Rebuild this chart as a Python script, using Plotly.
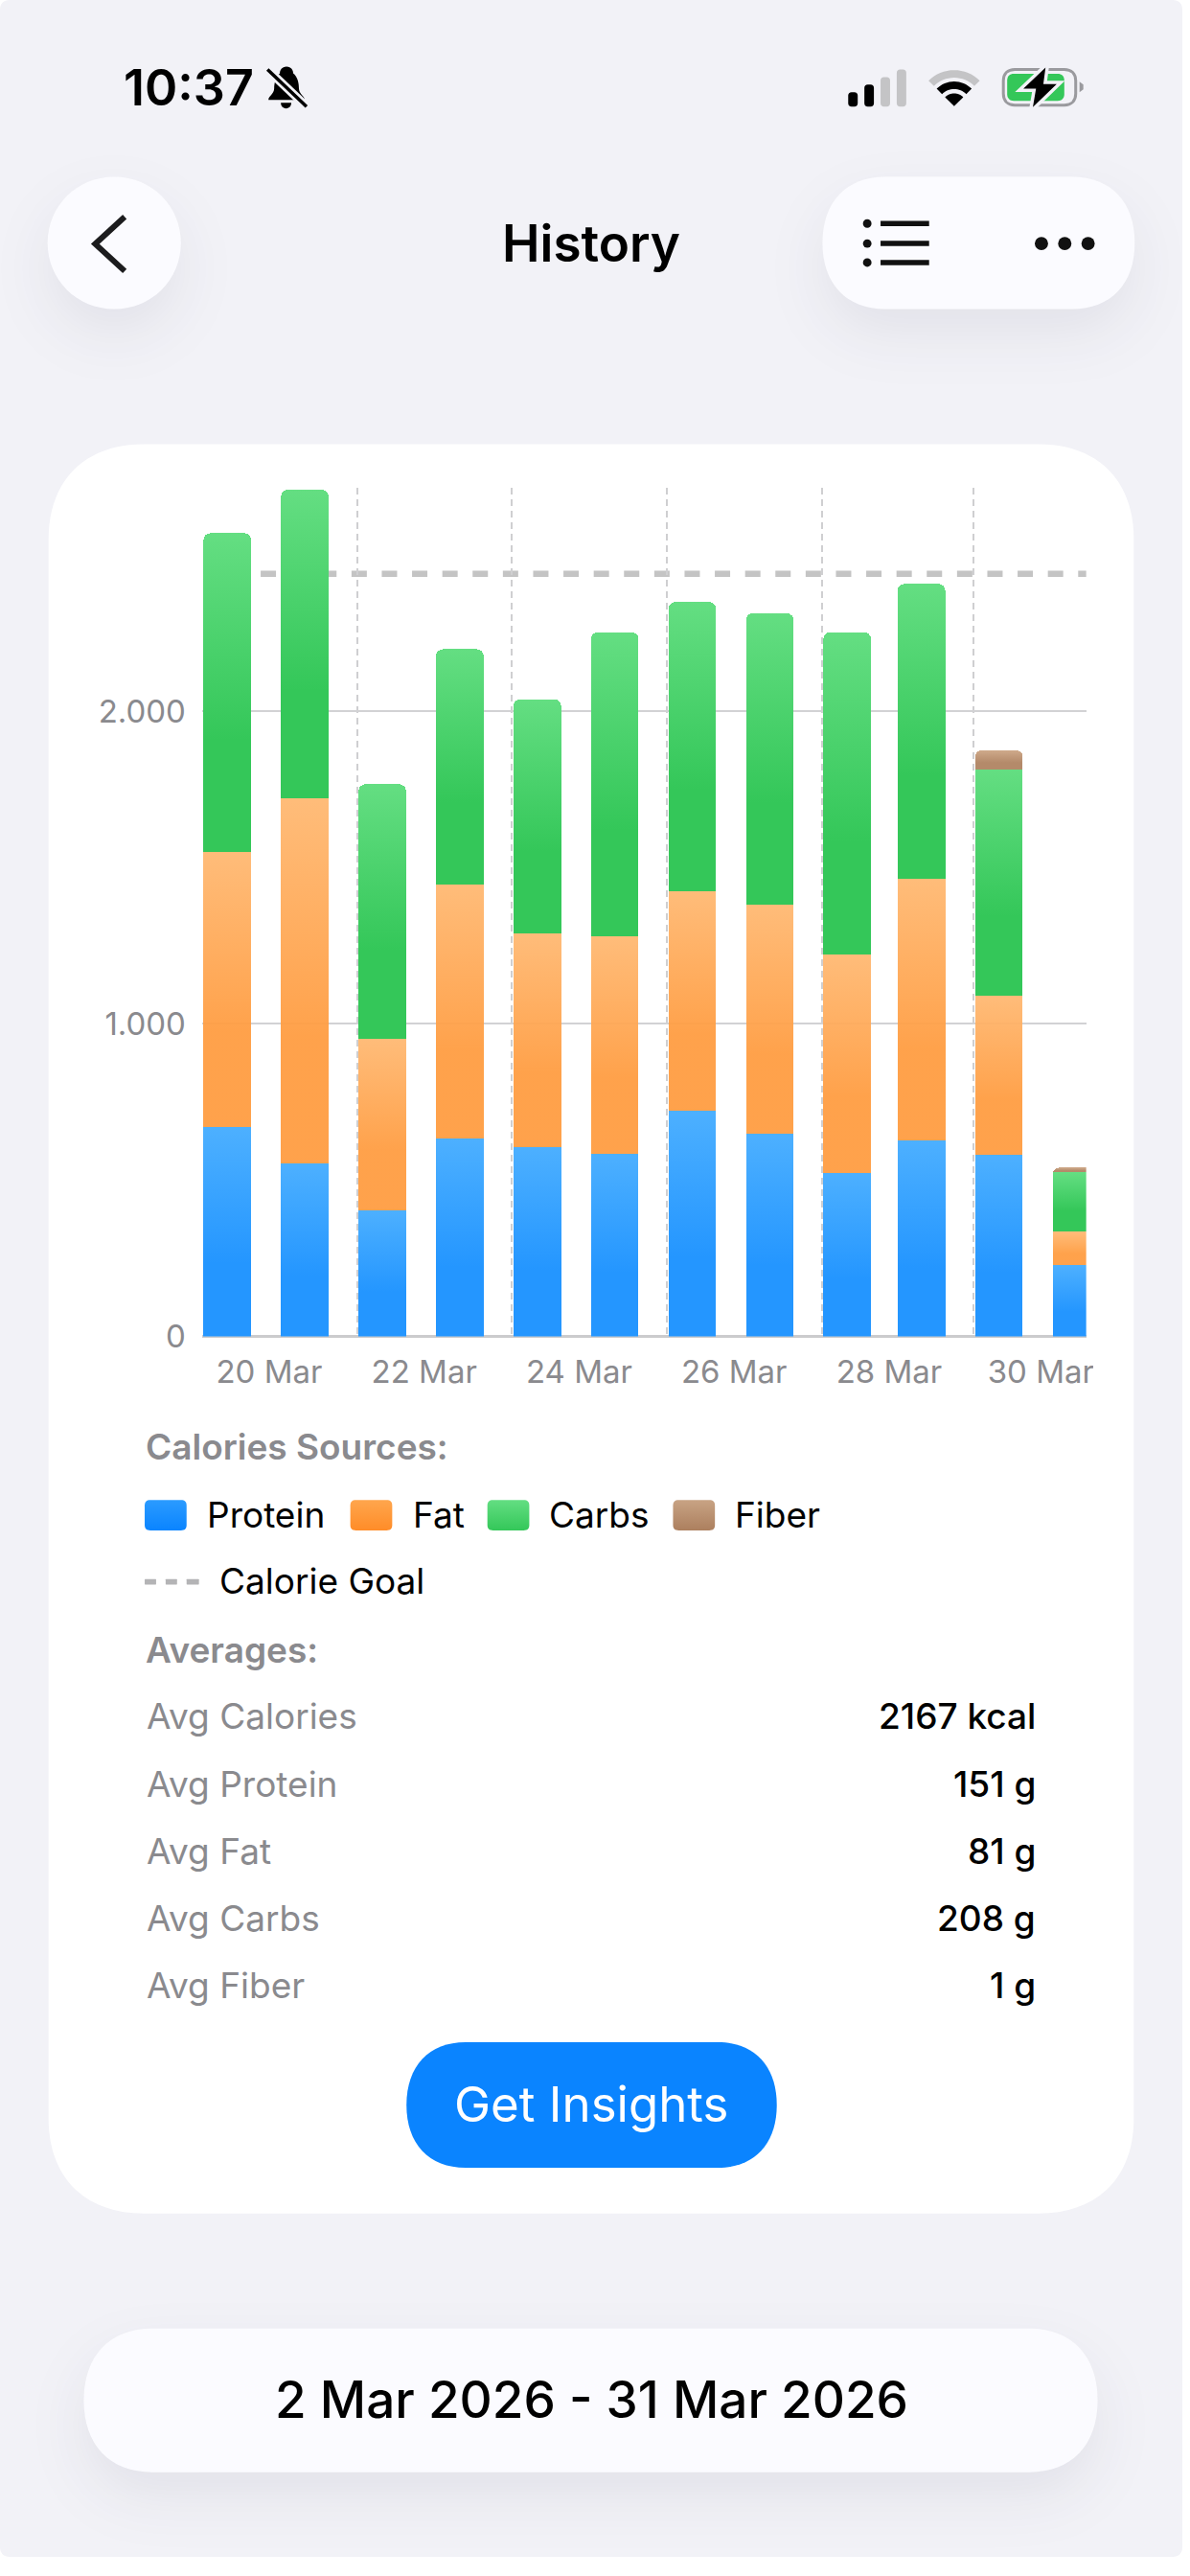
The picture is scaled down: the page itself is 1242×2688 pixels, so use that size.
import math
import plotly.graph_objects as go

# Daily calories per macro, local midnights expressed in UTC (clocks change on 29 Mar)
days = ["2026-03-19 23:00", "2026-03-20 23:00", "2026-03-21 23:00", "2026-03-22 23:00",
        "2026-03-23 23:00", "2026-03-24 23:00", "2026-03-25 23:00", "2026-03-26 23:00",
        "2026-03-27 23:00", "2026-03-28 22:00", "2026-03-29 22:00", "2026-03-30 22:00"]
protein = [669, 553, 404, 633, 607, 585, 723, 647, 524, 627, 581, 227]
fat = [882, 1167, 547, 812, 681, 694, 702, 734, 697, 837, 509, 108]
carbs = [1018, 988, 815, 753, 750, 973, 924, 932, 1031, 943, 724, 190]
fiber = [0, 0, 0, 0, 0, 0, 0, 0, 0, 0, 61, 15]
calorie_goal = 2439

x_ticks = ["2026-03-19 23:00", "2026-03-21 23:00", "2026-03-23 23:00",
           "2026-03-25 23:00", "2026-03-27 23:00", "2026-03-29 22:00"]
x_labels = ["20 Mar", "22 Mar", "24 Mar", "26 Mar", "28 Mar", "30 Mar"]
y_ticks = [0, 1000, 2000]
y_labels = ["0", "1.000", "2.000"]

series_names = ["Protein", "Fat", "Carbs", "Fiber"]
series_colors = ["#2496FF", "#FF9F43", "#34C759", "#B48A6A"]
average_names = ["Avg Calories", "Avg Protein", "Avg Fat", "Avg Carbs", "Avg Fiber"]
average_values = ["2167 kcal", "151 g", "81 g", "208 g", "1 g"]

W, H = 1242, 2688
FONT = "Inter"
GREY = "#8a8a8e"
INK = "#000000"
PAGE = "#f2f2f7"
PILL = "#fbfbff"
BLUE = "#0A84FF"


def fx(x):
    return x / W


def fy(y):
    return 1 - y / H


def pt(x, y):
    return f"{fx(x):.6f},{fy(y):.6f}"


def smooth_rect(x0, y0, x1, y1, rx, ry=None, k=0.62):
    """Closed rounded rectangle with soft, continuous-looking corners."""
    ry = rx if ry is None else ry
    cx, cy = rx * (1 - k), ry * (1 - k)
    return (
        f"M{pt(x0 + rx, y0)} L{pt(x1 - rx, y0)} "
        f"C{pt(x1 - cx, y0)} {pt(x1, y0 + cy)} {pt(x1, y0 + ry)} "
        f"L{pt(x1, y1 - ry)} C{pt(x1, y1 - cy)} {pt(x1 - cx, y1)} {pt(x1 - rx, y1)} "
        f"L{pt(x0 + rx, y1)} C{pt(x0 + cx, y1)} {pt(x0, y1 - cy)} {pt(x0, y1 - ry)} "
        f"L{pt(x0, y0 + ry)} C{pt(x0, y0 + cy)} {pt(x0 + cx, y0)} {pt(x0 + rx, y0)} Z"
    )


def poly(points, close=True):
    body = " L".join(pt(x, y) for x, y in points)
    return "M" + body + (" Z" if close else "")


def fan(cx, cy, r0, r1, half_angle=45, steps=16):
    """Ring segment opening upwards, used for the wifi glyph."""
    angles = [math.radians(-half_angle + 2 * half_angle * i / steps) for i in range(steps + 1)]
    outer = [(cx + r1 * math.sin(a), cy - r1 * math.cos(a)) for a in angles]
    inner = [(cx + r0 * math.sin(a), cy - r0 * math.cos(a)) for a in reversed(angles)]
    return poly(outer + inner)


shapes = []
shadowed = []


def fill_shape(path, color, shadow=False):
    if shadow:
        shadowed.append(len(shapes))
    shapes.append(dict(type="path", xref="paper", yref="paper", path=path, fillcolor=color,
                       line=dict(width=0), layer="below"))


def stroke_shape(path, color, width):
    shapes.append(dict(type="path", xref="paper", yref="paper", path=path,
                       line=dict(color=color, width=width), layer="below"))


def dot(x, y, r, color):
    shapes.append(dict(type="circle", xref="paper", yref="paper", layer="below",
                       x0=fx(x - r), x1=fx(x + r), y0=fy(y + r), y1=fy(y - r),
                       fillcolor=color, line=dict(width=0)))


# Screen, card and capsule surfaces
fill_shape(smooth_rect(0, 0, W, H, 10), PAGE)
fill_shape(smooth_rect(51, 467, 1191, 2327, 100), "#ffffff")
fill_shape(smooth_rect(50, 186, 190, 325, 70, 69.5, k=0.56), PILL, shadow=True)
fill_shape(smooth_rect(864, 186, 1192, 325, 66, 69.5), PILL, shadow=True)
fill_shape(smooth_rect(88, 2448, 1153, 2599, 72, 75.5), PILL, shadow=True)
fill_shape(smooth_rect(427, 2147, 816, 2279, 62, 66), BLUE)

# Back chevron, list and overflow icons
stroke_shape(poly([(131, 228), (100, 256.5), (131, 285)], close=False), "#1c1c1e", 6)
for row_y in (235, 256, 276):
    dot(911, row_y, 4.5, "#111111")
    stroke_shape(poly([(925, row_y), (976, row_y)], close=False), "#111111", 5.5)
for dot_x in (1094, 1118.5, 1143):
    dot(dot_x, 256, 7, "#111111")

# Status bar glyphs: muted bell
bell = (f"M{pt(301, 70)} C{pt(306, 70)} {pt(308, 74)} {pt(308, 77)} C{pt(313, 81)} {pt(314, 88)} {pt(314, 93)} "
        f"C{pt(314, 99)} {pt(320, 101)} {pt(320, 105)} L{pt(282, 105)} C{pt(282, 101)} {pt(288, 99)} {pt(288, 93)} "
        f"C{pt(288, 87)} {pt(290, 80)} {pt(294, 77)} C{pt(294, 74)} {pt(296, 70)} {pt(301, 70)} Z")
fill_shape(bell, "#000000")
fill_shape(f"M{pt(295, 108)} L{pt(306, 108)} C{pt(306, 112)} {pt(303, 114)} {pt(300.5, 114)} "
           f"C{pt(298, 114)} {pt(295, 112)} {pt(295, 108)} Z", "#000000")
stroke_shape(poly([(281, 73), (322, 112)], close=False), PAGE, 9)
stroke_shape(poly([(281, 73), (322, 112)], close=False), "#000000", 3.5)

# Signal strength
for bx0, bx1, top, tone in [(891, 901, 97, "#000000"), (908, 918, 89, "#000000"),
                            (925, 935, 81, "#c4c4c6"), (942, 952, 73, "#c4c4c6")]:
    fill_shape(smooth_rect(bx0, top, bx1, 112, 3.5), tone)

# Wifi
fill_shape(fan(1002.3, 111.7, 30, 38), "#c4c4c6")
fill_shape(fan(1002.3, 111.7, 18, 26), "#000000")
fill_shape(fan(1002.3, 111.7, 0, 13.5), "#000000")

# Charging battery
stroke_shape(smooth_rect(1054, 73, 1130, 110.5, 12), "#9a9a9e", 3)
fill_shape(smooth_rect(1058, 77.5, 1118, 106, 7), "#34C759")
fill_shape(poly([(1134, 86), (1138, 89), (1138, 94), (1134, 97)]), "#9a9a9e")
bolt = [(1098.3, 71), (1075, 93.3), (1088.3, 93.3), (1085, 112.7), (1110, 88.3), (1096, 88.3)]
stroke_shape(poly(bolt), PAGE, 7)
fill_shape(poly(bolt), "#000000")

# Legend keys
key_y0, key_y1 = 1577, 1609
key_first = len(shapes)
for key_x in (152, 368, 512, 707):
    fill_shape(smooth_rect(key_x, key_y0, key_x + 44, key_y1, 6, k=0.7), "#888888")
for dash_x0, dash_x1 in ((152, 164), (174, 186), (196, 209)):
    fill_shape(smooth_rect(dash_x0, 1660, dash_x1, 1666, 0.5), "#b4b4b6")

# Calorie goal rule, under the bars; its dash phase starts behind the first bar
shapes.append(dict(type="line", xref="x domain", yref="y", layer="below", x0=0.032, x1=1,
                   y0=calorie_goal, y1=calorie_goal,
                   line=dict(color="#c4c4c4", width=6.5, dash="16px,15.6px")))

annotations = []


def text(x, y, s, size, color=INK, anchor="left", weight=400):
    annotations.append(dict(xref="paper", yref="paper", x=fx(x), y=fy(y), text=s, showarrow=False,
                            xanchor=anchor, yanchor="middle", borderpad=0,
                            font=dict(family=FONT, size=size, color=color, weight=weight)))


text(129, 92, "10:37", 52, weight=600)
text(621, 256, "History", 53, weight=600, anchor="center")
text(152, 1521, "Calories Sources:", 37, GREY, weight=600)
for name, x in zip(series_names, (216, 433, 576, 771)):
    text(x, 1592, name, 37)
text(229, 1662, "Calorie Goal", 37)
text(152, 1734, "Averages:", 37, GREY, weight=600)
for name, value, y in zip(average_names, average_values, (1804, 1875, 1946, 2016, 2087)):
    text(153, y, name, 37, GREY)
    text(1089, y, value, 37, anchor="right", weight=500)
text(621.5, 2212, "Get Insights", 51, "#ffffff", anchor="center")
text(621, 2523, "2 Mar 2026 - 31 Mar 2026", 53, anchor="center", weight=500)

PX_PER_DAY = 81.4
DAY_MS = 86400000
bar_width = 50 / PX_PER_DAY * DAY_MS
bar_offset = 1.5 / PX_PER_DAY * DAY_MS

fig = go.Figure()
for name, values, color in zip(series_names, (protein, fat, carbs, fiber), series_colors):
    fig.add_trace(go.Bar(name=name, x=days, y=values, marker=dict(color=color, line=dict(width=0)),
                         width=bar_width, offset=bar_offset, showlegend=False))

axis_font = dict(family=FONT, size=33, color=GREY)
fig.update_layout(
    width=W, height=H, margin=dict(l=0, r=0, t=0, b=0, pad=0),
    paper_bgcolor="#ffffff", plot_bgcolor="rgba(0,0,0,0)",
    barmode="stack", barcornerradius=7, showlegend=False,
    shapes=shapes, annotations=annotations,
    xaxis=dict(type="date", domain=[212.3 / W, 1141 / W], range=["2026-03-19 23:00", "2026-03-31 08:49"],
               tickmode="array", tickvals=x_ticks, ticktext=x_labels, tickfont=axis_font,
               ticks="", ticklabelshift=70, ticklabelstandoff=14,
               showgrid=True, gridcolor="#cfcfd1", gridwidth=2, griddash="7px,5px",
               showline=False, zeroline=False),
    yaxis=dict(domain=[1 - 1405 / H, 1 - 513 / H], range=[0, 892 / 0.3287],
               tickmode="array", tickvals=y_ticks, ticktext=y_labels, tickfont=axis_font,
               ticks="", ticklabelstandoff=16,
               showgrid=True, gridcolor="#d2d2d4", gridwidth=2,
               zeroline=True, zerolinecolor="#cbcbcd", zerolinewidth=3, showline=False),
)

# Vertical gradients, capsule shadows and the clipped last date label are applied to the drawn SVG
post_script = """
(function () {
  document.documentElement.style.overflow = 'hidden';
  document.body.style.margin = '0';
  document.body.style.overflow = 'hidden';
  var svg = document.querySelector('.main-svg');
  var ns = 'http://www.w3.org/2000/svg';
  var defs = document.createElementNS(ns, 'defs');
  var ramps = [
    ['#4DB0FF', '#2496FF', 1], ['#FFB871', '#FF9C40', 0.94],
    ['#64DE82', '#34C759', 1], ['#CFAA8B', '#B48A6A', 1],
    ['#2B9BFF', '#0A84FF', 1], ['#FFA64D', '#FF8C28', 1],
    ['#63DE82', '#34C759', 1], ['#C8A384', '#AC7F5E', 1]
  ];
  ramps.forEach(function (r, i) {
    var g = document.createElementNS(ns, 'linearGradient');
    g.setAttribute('id', 'ramp' + i);
    g.setAttribute('x1', '0'); g.setAttribute('y1', '0');
    g.setAttribute('x2', '0'); g.setAttribute('y2', '1');
    [[0, r[0]], [i < 4 ? 0.65 : 1, r[1]], [1, r[1]]].forEach(function (s) {
      var stop = document.createElementNS(ns, 'stop');
      stop.setAttribute('offset', s[0]);
      stop.setAttribute('stop-color', s[1]);
      stop.setAttribute('stop-opacity', r[2]);
      g.appendChild(stop);
    });
    defs.appendChild(g);
  });
  var clip = document.createElementNS(ns, 'clipPath');
  clip.setAttribute('id', 'xlabelclip');
  var rect = document.createElementNS(ns, 'rect');
  rect.setAttribute('x', 0); rect.setAttribute('y', 0);
  rect.setAttribute('width', 1141); rect.setAttribute('height', 2688);
  clip.appendChild(rect);
  defs.appendChild(clip);
  svg.insertBefore(defs, svg.firstChild);

  document.querySelectorAll('.barlayer .trace.bars').forEach(function (t, i) {
    t.querySelectorAll('path').forEach(function (p) {
      p.style.fill = 'url(#ramp' + i + ')';
      p.style.fillOpacity = 1;
    });
  });
  var shapes = document.querySelectorAll('.layer-below .shapelayer path');
  SHADOWED.forEach(function (i) {
    shapes[i].style.filter = 'drop-shadow(0px 26px 30px rgba(30,30,60,0.07))';
  });
  KEYS.forEach(function (i, k) {
    shapes[i].style.fill = 'url(#ramp' + (k + 4) + ')';
    shapes[i].style.fillOpacity = 1;
  });
  document.querySelectorAll('.xaxislayer-above').forEach(function (l) {
    l.setAttribute('clip-path', 'url(#xlabelclip)');
  });
})();
""".replace("SHADOWED", str(shadowed)).replace("KEYS", str([key_first + i for i in range(4)]))

fig.write_html("out.html", post_script=post_script, config=dict(displayModeBar=False))
